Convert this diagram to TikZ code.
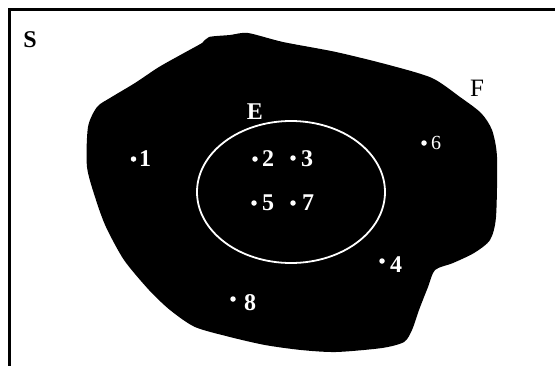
\documentclass[tikz,border=0pt]{standalone}
\usepackage{fontspec}
\setmainfont{Liberation Serif}
\begin{document}
\begin{tikzpicture}[x=1pt,y=-1pt,
  dot/.style={circle,fill=white,inner sep=0pt,minimum size=5.5pt},
  num/.style={inner sep=0pt,text=white,font=\fontsize{24}{24}\selectfont\bfseries},
  numthin/.style={inner sep=0pt,text=white,font=\fontsize{20}{20}\selectfont},
  setlbl/.style={inner sep=0pt,font=\fontsize{24}{24}\selectfont\bfseries}]
\useasboundingbox (0,0) rectangle (555,365);
\fill[white] (0,0) rectangle (555,365);
% frame
\draw[line width=2.5pt] (560,9.5) -- (9.5,9.5) -- (9.5,370);
% blob F
\fill[black] plot[smooth cycle, tension=0.45] coordinates {
 (87,167) (88,127) (97,107) (110,98) (135,83) (159,67) (184,53) (202,43)
 (209,37) (230,35) (248,33) (283,42) (336,52) (389,65) (432,78) (460,97)
 (481,113) (492,130) (497,157) (496,217) (490,240) (474,253) (453,263)
 (435,270) (428,287) (419,310) (412,330) (404,342) (382,348) (336,352)
 (301,350) (265,345) (230,337) (195,327) (170,310) (149,290) (124,260)
 (106,227) (96,200)};
% ellipse E
\draw[white,line width=1.8pt] (291,192) ellipse [x radius=94, y radius=71];
% labels
\node[setlbl] (S) at (30,40) {S};
\node[setlbl,text=white] (E) at (255,112) {E};
\node[inner sep=0pt,font=\fontsize{25}{25}\selectfont] (F) at (477,88) {F};
% points
\node[dot] (d1) at (133.5,159) {};
\node[num] (n1) at (145,159) {1};
\node[dot] (d2) at (255,159) {};
\node[num] (n2) at (268,159) {2};
\node[dot] (d3) at (293,158) {};
\node[num] (n3) at (307,159) {3};
\node[dot] (d5) at (254,203) {};
\node[num] (n5) at (268,203) {5};
\node[dot] (d7) at (293,203) {};
\node[num] (n7) at (308,203) {7};
\node[dot] (d6) at (424,143) {};
\node[numthin] (n6) at (436,143) {6};
\node[dot] (d4) at (382,261) {};
\node[num] (n4) at (396,265) {4};
\node[dot] (d8) at (233,299) {};
\node[num] (n8) at (250,303) {8};
\end{tikzpicture}
\end{document}
